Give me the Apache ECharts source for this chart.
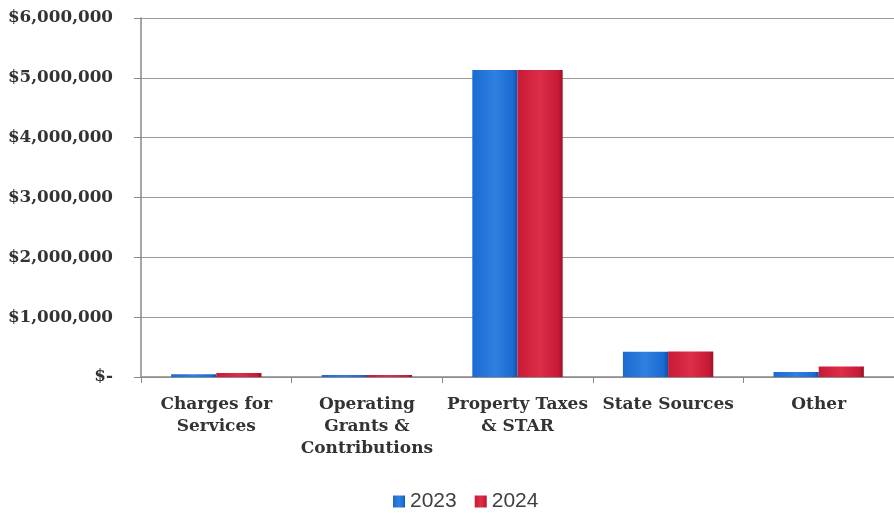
<!DOCTYPE html>
<html>
<head>
<meta charset="utf-8">
<script src="https://cdn.jsdelivr.net/npm/echarts@6/dist/echarts.min.js"></script>
<style>html,body{margin:0;padding:0;background:#fff;}#c{width:894px;height:513px;}</style>
</head>
<body>
<div id="c"></div>
<script>
const categories = ['Charges for\nServices', 'Operating\nGrants &\nContributions', 'Property Taxes\n& STAR', 'State Sources', 'Other'];
const seriesNames = ['2023', '2024'];
const values2023 = [45000, 35000, 5130000, 420000, 85000];
const values2024 = [65000, 35000, 5130000, 425000, 175000];
const yTicks = [0, 1000000, 2000000, 3000000, 4000000, 5000000, 6000000];

const chart = echarts.init(document.getElementById('c'), null, {renderer: 'canvas'});
function grad(dark, mid, light) {
  return new echarts.graphic.LinearGradient(0, 0, 1, 0, [
    {offset: 0, color: mid}, {offset: 0.5, color: light}, {offset: 0.9, color: mid}, {offset: 1, color: dark}
  ]);
}
const fmt = v => v === 0 ? '$-' : '$' + v.toLocaleString('en-US');
chart.setOption({
  animation: false,
  grid: {left: 141, top: 18, right: 0, bottom: 136, containLabel: false},
  legend: {
    data: seriesNames, top: 486, left: 388, itemWidth: 12, itemHeight: 12, itemGap: 18,
    icon: 'rect',
    textStyle: {fontFamily: 'Liberation Sans', fontSize: 21, color: '#404040'}
  },
  xAxis: {
    type: 'category', data: categories,
    axisLine: {lineStyle: {color: '#888', width: 1.5}},
    axisTick: {show: true, length: 6, lineStyle: {color: '#888'}},
    axisLabel: {interval: 0, fontFamily: 'DejaVu Serif', fontWeight: 'bold', fontSize: 17, color: '#333', lineHeight: 22, margin: 17}
  },
  yAxis: {
    type: 'value', min: yTicks[0], max: yTicks[yTicks.length - 1], interval: 1000000,
    axisLine: {show: true, lineStyle: {color: '#888', width: 1.5}},
    axisTick: {show: true, length: 7, lineStyle: {color: '#888'}},
    splitLine: {lineStyle: {color: '#999', width: 1}},
    axisLabel: {formatter: fmt, fontFamily: 'DejaVu Serif', fontWeight: 'bold', fontSize: 16.8, color: '#333', margin: 28}
  },
  series: [
    {name: seriesNames[0], type: 'bar', data: values2023, barGap: '0%', barCategoryGap: '40%',
     itemStyle: {color: grad('#0d4fa8', '#1a6ad2', '#2f80e0')}},
    {name: seriesNames[1], type: 'bar', data: values2024,
     itemStyle: {color: grad('#9c1028', '#c81a36', '#dc2e48')}}
  ]
});
</script>
</body>
</html>
